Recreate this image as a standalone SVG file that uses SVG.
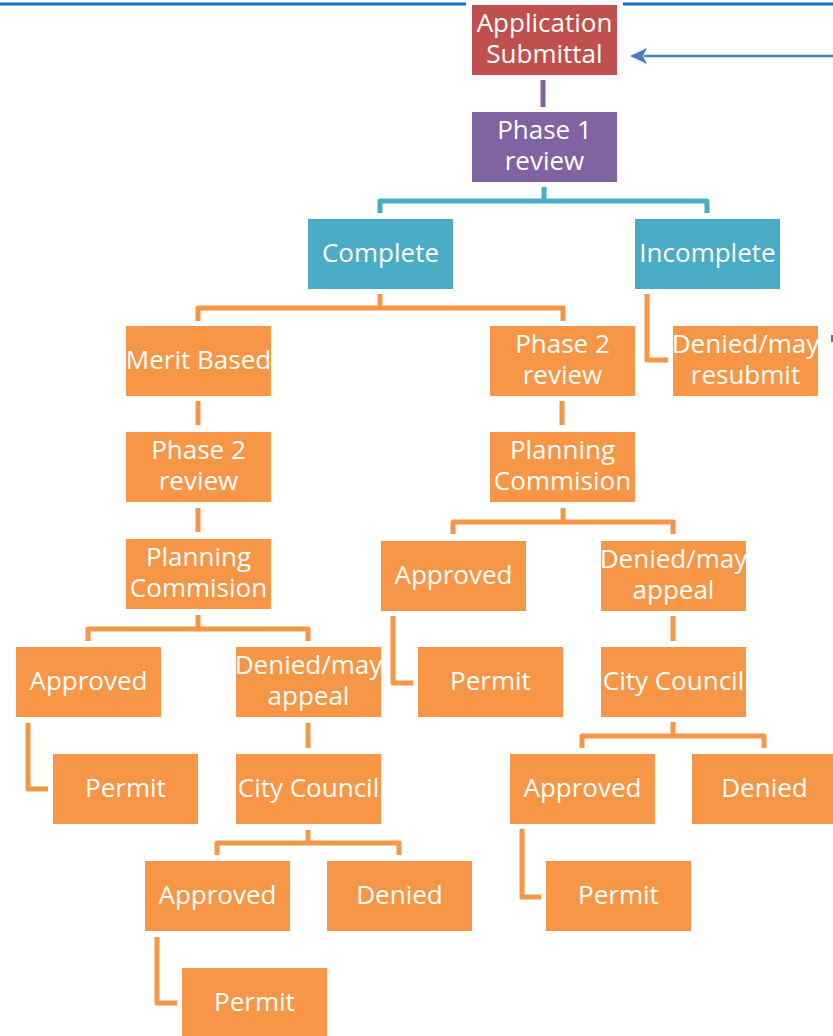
<svg xmlns="http://www.w3.org/2000/svg" width="833" height="1036" viewBox="0 0 833 1036">
<style>
.n{stroke:none}
.red{fill:#C0504D}
.pur{fill:#8064A2}
.teal{fill:#4BACC6}
.org{fill:#F79646}
text{font-family:"Open Sans","Noto Sans","Liberation Sans",sans-serif;font-size:26px;fill:#FFFFFF;text-anchor:middle}
.c{fill:none;stroke-width:5;stroke-linejoin:round;stroke-linecap:butt}
.co{stroke:#F79646}
.cb{stroke:#4BACC6}
.cp{stroke:#8064A2}
</style>
<rect width="833" height="1036" fill="#FFFFFF"/>
<g id="topline">
<line x1="0" y1="4" x2="466" y2="4" stroke="#0F6FC6" stroke-width="3"/>
<line x1="623" y1="4" x2="833" y2="4" stroke="#0F6FC6" stroke-width="3"/>
</g>
<g id="connectors">
<path class="c cp" d="M543 80V107"/>
<path class="c cb" d="M544 187V201"/>
<path class="c cb" d="M380 213V201H707V213"/>
<path class="c co" d="M380 294V308"/>
<path class="c co" d="M198 321V308H563V321"/>
<path class="c co" d="M647 294V360H668"/>
<path class="c co" d="M198 401V425"/>
<path class="c co" d="M198 508V532"/>
<path class="c co" d="M198 615V629"/>
<path class="c co" d="M88 641V629H308V641"/>
<path class="c co" d="M28 723V789H48"/>
<path class="c co" d="M308 723V748"/>
<path class="c co" d="M308 830V843"/>
<path class="c co" d="M217 855V843H399V855"/>
<path class="c co" d="M157 937V1003H177"/>
<path class="c co" d="M562 401V425"/>
<path class="c co" d="M563 508V522"/>
<path class="c co" d="M453 534V522H673V534"/>
<path class="c co" d="M393 616V683H413"/>
<path class="c co" d="M673 616V641"/>
<path class="c co" d="M673 722V736"/>
<path class="c co" d="M582 748V736H764V748"/>
<path class="c co" d="M522 829V897H541"/>
<line x1="644" y1="56" x2="833" y2="56" stroke="#4A7EBB" stroke-width="2.5"/>
<polygon points="630,56 647,48 643,56 647,64" fill="#4A7EBB"/>
<line x1="832" y1="335" x2="832" y2="342" stroke="#4A7EBB" stroke-width="2"/>
</g>
<g id="app"><rect class="n red" x="472" y="5" width="145" height="70"/><text x="544.5" y="32">Application</text><text x="544.5" y="63">Submittal</text></g>
<g id="phase1"><rect class="n pur" x="472" y="112" width="145" height="70"/><text x="544.5" y="139">Phase 1</text><text x="544.5" y="170">review</text></g>
<g id="complete"><rect class="n teal" x="308" y="219" width="145" height="70"/><text x="380.5" y="262">Complete</text></g>
<g id="incomplete"><rect class="n teal" x="635" y="219" width="145" height="70"/><text x="707.5" y="262">Incomplete</text></g>
<g id="merit"><rect class="n org" x="126" y="326" width="145" height="70"/><text x="198.5" y="369">Merit Based</text></g>
<g id="phase2r"><rect class="n org" x="490" y="326" width="145" height="70"/><text x="562.5" y="353">Phase 2</text><text x="562.5" y="384">review</text></g>
<g id="deniedresubmit"><rect class="n org" x="673" y="326" width="145" height="70"/><text x="745.5" y="353">Denied/may</text><text x="745.5" y="384">resubmit</text></g>
<g id="phase2l"><rect class="n org" x="126" y="432" width="145" height="70"/><text x="198.5" y="459">Phase 2</text><text x="198.5" y="490">review</text></g>
<g id="planningr"><rect class="n org" x="490" y="432" width="145" height="70"/><text x="562.5" y="459">Planning</text><text x="562.5" y="490">Commision</text></g>
<g id="planningl"><rect class="n org" x="126" y="539" width="145" height="70"/><text x="198.5" y="566">Planning</text><text x="198.5" y="597">Commision</text></g>
<g id="approvedr1"><rect class="n org" x="381" y="541" width="145" height="70"/><text x="453.5" y="584">Approved</text></g>
<g id="deniedr1"><rect class="n org" x="601" y="541" width="145" height="70"/><text x="673.5" y="568">Denied/may</text><text x="673.5" y="599">appeal</text></g>
<g id="approvedl1"><rect class="n org" x="16" y="647" width="145" height="70"/><text x="88.5" y="690">Approved</text></g>
<g id="deniedl1"><rect class="n org" x="236" y="647" width="145" height="70"/><text x="308.5" y="674">Denied/may</text><text x="308.5" y="705">appeal</text></g>
<g id="permitr1"><rect class="n org" x="418" y="647" width="145" height="70"/><text x="490.5" y="690">Permit</text></g>
<g id="councilr"><rect class="n org" x="601" y="647" width="145" height="70"/><text x="673.5" y="690">City Council</text></g>
<g id="permitl1"><rect class="n org" x="53" y="754" width="145" height="70"/><text x="125.5" y="797">Permit</text></g>
<g id="councill"><rect class="n org" x="236" y="754" width="145" height="70"/><text x="308.5" y="797">City Council</text></g>
<g id="approvedr2"><rect class="n org" x="510" y="754" width="145" height="70"/><text x="582.5" y="797">Approved</text></g>
<g id="deniedr2"><rect class="n org" x="692" y="754" width="145" height="70"/><text x="764.5" y="797">Denied</text></g>
<g id="approvedl2"><rect class="n org" x="145" y="861" width="145" height="70"/><text x="217.5" y="904">Approved</text></g>
<g id="deniedl2"><rect class="n org" x="327" y="861" width="145" height="70"/><text x="399.5" y="904">Denied</text></g>
<g id="permitr2"><rect class="n org" x="546" y="861" width="145" height="70"/><text x="618.5" y="904">Permit</text></g>
<g id="permitl2"><rect class="n org" x="182" y="968" width="145" height="70"/><text x="254.5" y="1011">Permit</text></g>
</svg>
